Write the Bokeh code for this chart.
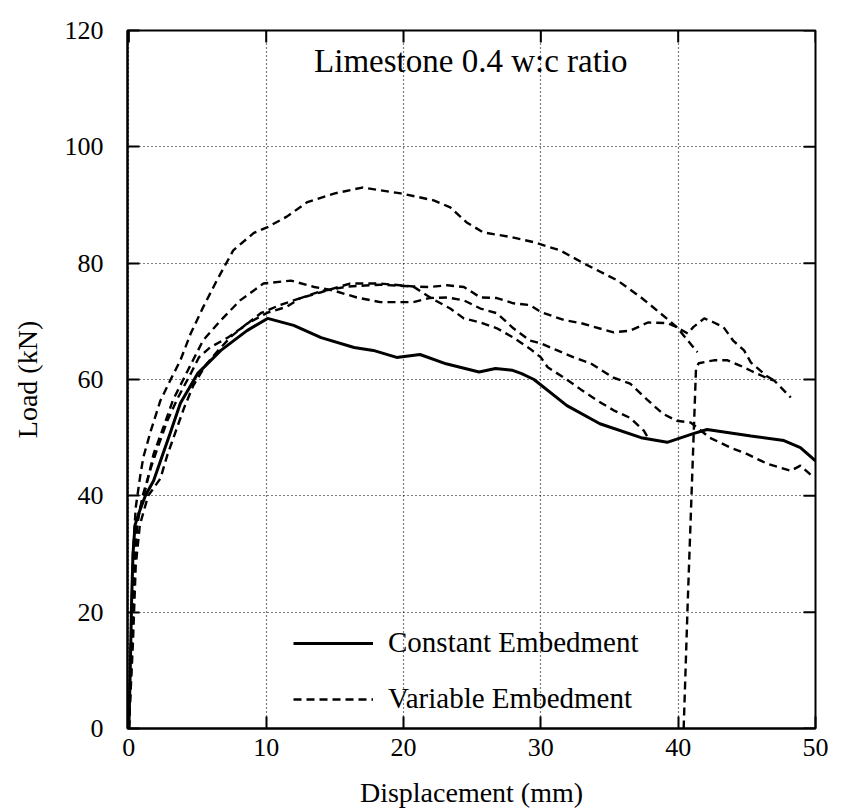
import math
from bokeh.plotting import figure
from bokeh.models import Range1d, Legend, LegendItem, Label, FixedTicker
from bokeh.embed import file_html
from bokeh.resources import INLINE

FONT = "Liberation Serif"

# ---------------- data ----------------
x_ticks = [0, 10, 20, 30, 40, 50]
y_ticks = [0, 20, 40, 60, 80, 100, 120]

title_text = "Limestone 0.4 w:c ratio"
x_title = "Displacement (mm)"
y_title = "Load (kN)"
legend_const = "Constant Embedment"
legend_var = "Variable Embedment"

# Constant embedment (solid)
const_x = [0.0, 0.1, 0.2, 0.3, 0.45, 0.8, 1.2, 1.8, 2.3, 3.0, 3.75, 5.0, 6.7,
           8.6, 10.1, 12.0, 14.0, 16.4, 17.8, 19.5, 21.2, 23.1, 25.5, 26.7,
           27.9, 28.6, 29.5, 31.9, 34.3, 37.3, 39.2, 41.1, 42.1, 45.3, 47.7,
           48.9, 50.0]
const_y = [0.0, 10.0, 22.0, 30.0, 35.0, 37.5, 40.0, 42.6, 46.0, 50.7, 55.9,
           61.0, 65.0, 68.4, 70.5, 69.3, 67.2, 65.5, 65.0, 63.8, 64.3, 62.7,
           61.3, 61.9, 61.6, 61.0, 60.0, 55.5, 52.4, 50.0, 49.2, 50.7, 51.4,
           50.3, 49.5, 48.3, 46.0]

# Variable embedment, specimen A (highest peak)
var_a_x = [0.0, 0.15, 0.3, 0.5, 0.8, 1.05, 1.6, 2.3, 3.0, 3.75, 4.5, 5.4, 6.4,
           7.6, 9.1, 10.1, 11.5, 13.0, 15.0, 17.0, 19.8, 22.2, 23.4, 24.6,
           25.8, 27.8, 29.5, 31.4, 33.1, 35.6, 37.3, 38.7, 39.9, 40.7, 41.4]
var_a_y = [0.0, 15.0, 30.0, 38.0, 43.0, 46.6, 51.2, 56.4, 59.8, 63.3, 67.9,
           72.4, 77.0, 82.2, 85.2, 86.2, 88.0, 90.5, 92.0, 93.0, 92.0, 90.8,
           89.6, 87.0, 85.3, 84.5, 83.6, 82.2, 80.0, 77.0, 74.1, 71.4, 69.0,
           66.7, 64.7]

# Variable embedment, specimen B (early peak ~77)
var_b_x = [0.0, 0.2, 0.4, 0.7, 1.1, 1.4, 1.8, 2.5, 3.2, 4.3, 5.4, 6.7, 8.1,
           9.8, 11.8, 13.5, 14.9, 16.6, 18.3, 20.7, 21.9, 23.2, 24.4, 25.6,
           26.8, 28.0, 29.2, 30.0, 31.2, 32.4, 33.6, 35.3, 36.5, 37.8, 38.9,
           39.9, 40.9, 41.4, 42.3, 43.8, 45.0, 46.5, 48.2, 48.9, 49.9]
var_b_y = [0.0, 15.0, 30.0, 37.0, 40.0, 43.1, 47.2, 51.7, 56.4, 61.6, 66.7,
           70.2, 73.6, 76.5, 77.0, 75.9, 75.3, 74.1, 73.3, 73.3, 74.0, 74.1,
           73.6, 72.2, 71.4, 68.8, 66.7, 66.2, 65.0, 63.8, 62.8, 60.3, 59.3,
           56.4, 54.1, 52.9, 52.6, 51.7, 50.0, 48.3, 47.2, 45.5, 44.3, 45.2,
           43.1]

# Variable embedment, specimen C (second peak at ~42 mm)
var_c_x = [0.0, 0.2, 0.4, 0.6, 1.0, 1.6, 2.1, 2.8, 3.6, 4.5, 5.1, 5.9, 7.2,
           8.3, 9.6, 11.0, 12.5, 14.0, 16.1, 18.3, 20.7, 21.9, 23.2, 24.4,
           25.6, 26.8, 28.0, 29.2, 30.0, 31.7, 32.9, 35.3, 36.5, 37.8, 39.2,
           39.9, 40.7, 41.1, 41.9, 42.6, 43.3, 44.0, 44.8, 45.3, 46.5, 47.0]
var_c_y = [0.0, 12.0, 28.0, 35.0, 40.0, 44.8, 48.3, 52.9, 57.0, 61.0, 63.8,
           65.5, 67.2, 69.0, 71.4, 72.8, 74.0, 75.0, 76.5, 76.5, 76.0, 75.9,
           76.2, 75.9, 74.1, 74.0, 73.1, 72.8, 71.6, 70.2, 69.7, 68.1, 68.4,
           69.8, 69.7, 69.0, 67.9, 69.0, 70.5, 69.8, 69.0, 66.7, 65.0, 62.9,
           60.5, 59.8]

# Variable embedment, specimen D (ends ~37.8 mm)
var_d_x = [0.0, 0.3, 0.5, 0.8, 1.4, 2.3, 2.8, 3.4, 4.0, 4.7, 5.6, 6.5, 7.5,
           8.6, 10.1, 11.5, 12.5, 14.0, 16.0, 18.3, 20.7, 22.0, 23.4, 24.4,
           25.6, 26.8, 28.0, 29.2, 30.0, 30.5, 31.7, 32.9, 34.1, 35.3, 36.5,
           37.5, 37.8]
var_d_y = [0.0, 15.0, 28.0, 35.0, 40.0, 43.0, 47.0, 51.0, 55.0, 59.0, 62.5,
           65.0, 67.5, 69.6, 71.5, 72.5, 74.0, 75.2, 76.0, 76.3, 76.0, 74.0,
           72.2, 70.5, 69.8, 68.8, 67.2, 65.3, 63.8, 62.1, 60.3, 58.3, 56.4,
           54.7, 53.4, 51.2, 50.0]

# Variable embedment, specimen E (starts at ~40 mm)
var_e_x = [40.4, 40.7, 41.0, 41.3, 41.5, 42.6, 43.6, 44.5, 45.3, 46.5, 47.0,
           48.2]
var_e_y = [0.0, 22.0, 42.0, 62.0, 62.8, 63.3, 63.3, 62.4, 61.5, 60.2, 59.8,
           56.9]

variable_series = [(var_a_x, var_a_y), (var_b_x, var_b_y), (var_c_x, var_c_y),
                   (var_d_x, var_d_y), (var_e_x, var_e_y)]

X_MIN, X_MAX = -0.1, 50
Y_MIN, Y_MAX = 0, 120

# ---------------- figure ----------------
p = figure(width=833, height=810, output_backend="svg", toolbar_location=None,
           x_range=Range1d(X_MIN, X_MAX), y_range=Range1d(Y_MIN, Y_MAX),
           min_border_left=127, min_border_right=18, min_border_top=30,
           min_border_bottom=82)
p.background_fill_color = "white"
p.border_fill_color = "white"
p.outline_line_color = "black"
p.outline_line_width = 2

for g, t in ((p.xgrid, x_ticks), (p.ygrid, y_ticks)):
    g.ticker = FixedTicker(ticks=t)
    g.grid_line_color = "black"
    g.grid_line_width = 1.2
    g.grid_line_dash = "1 3"

xa = p.xaxis[0]
ya = p.yaxis[0]
for ax, t in ((xa, x_ticks), (ya, y_ticks)):
    ax.ticker = FixedTicker(ticks=t)
    ax.axis_line_color = "black"
    ax.axis_line_width = 2
    ax.major_tick_in = 12
    ax.major_tick_out = 0
    ax.major_tick_line_width = 2
    ax.major_tick_line_color = "black"
    ax.minor_tick_in = 0
    ax.minor_tick_out = 0
    ax.minor_tick_line_color = None
    ax.major_label_text_font = FONT
    ax.major_label_text_font_size = "26px"
    ax.major_label_text_color = "black"
    ax.axis_label_text_font = FONT
    ax.axis_label_text_font_size = "28px"
    ax.axis_label_text_font_style = "normal"
    ax.axis_label_text_color = "black"
xa.axis_label = x_title
ya.axis_label = y_title
xa.major_label_standoff = 10
ya.major_label_standoff = 24
xa.axis_label_standoff = 18
ya.axis_label_standoff = 19

# inward tick marks on the top and right frame edges (12 px long)
p.ray(x=x_ticks, y=[Y_MAX] * len(x_ticks), length=12, length_units="screen",
      angle=-math.pi / 2, line_color="black", line_width=2)
p.ray(x=[X_MAX] * len(y_ticks), y=y_ticks, length=12, length_units="screen",
      angle=math.pi, line_color="black", line_width=2)

# curves
r_const = p.line(const_x, const_y, line_color="black", line_width=3)
var_renderers = []
for vx, vy in variable_series:
    r = p.line(vx, vy, line_color="black", line_width=2.4, line_dash="8 5")
    var_renderers.append(r)

legend = Legend(items=[LegendItem(label=legend_const, renderers=[r_const]),
                       LegendItem(label=legend_var, renderers=[var_renderers[0]])],
                location=(166, 13), orientation="vertical")
legend.border_line_color = None
legend.background_fill_alpha = 0
legend.label_text_font = FONT
legend.label_text_font_size = "29px"
legend.label_text_color = "black"
legend.glyph_width = 80
legend.glyph_height = 30
legend.label_height = 30
legend.spacing = 23
legend.padding = 0
legend.margin = 0
legend.label_standoff = 15
p.add_layout(legend)

p.add_layout(Label(x=24.9, y=114.7, text=title_text, text_font=FONT,
                   text_font_size="33px", text_align="center",
                   text_baseline="alphabetic", text_color="black"))

open("out.html", "w").write(file_html(p, INLINE))
